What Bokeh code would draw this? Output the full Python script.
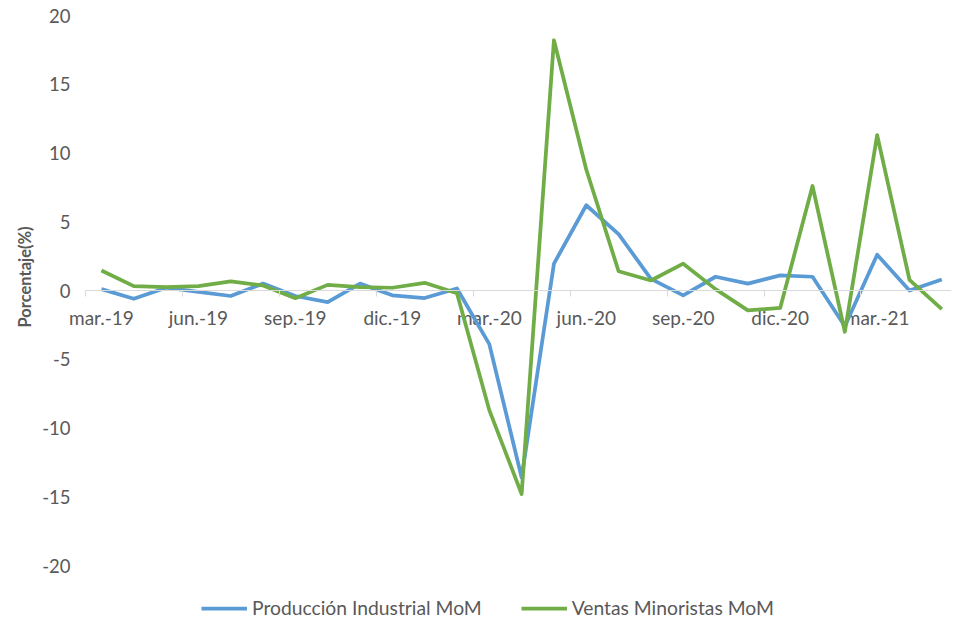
from bokeh.plotting import figure
from bokeh.models import Range1d, FixedTicker, LinearAxis, Legend, LegendItem, Title
from bokeh.core.properties import value
from bokeh.embed import file_html
from bokeh.resources import INLINE

months = ["mar.-19", "abr.-19", "may.-19", "jun.-19", "jul.-19", "ago.-19", "sep.-19",
          "oct.-19", "nov.-19", "dic.-19", "ene.-20", "feb.-20", "mar.-20", "abr.-20",
          "may.-20", "jun.-20", "jul.-20", "ago.-20", "sep.-20", "oct.-20", "nov.-20",
          "dic.-20", "ene.-21", "feb.-21", "mar.-21", "abr.-21", "may.-21"]

produccion = [0.1, -0.6, 0.2, -0.1, -0.4, 0.5, -0.4, -0.85, 0.5, -0.35, -0.55, 0.15,
              -3.9, -13.6, 1.95, 6.2, 4.1, 0.85, -0.35, 1.0, 0.5, 1.1, 1.0, -2.6,
              2.6, 0.0, 0.8]

ventas = [1.45, 0.32, 0.25, 0.32, 0.66, 0.37, -0.56, 0.41, 0.25, 0.2, 0.56, -0.2,
          -8.7, -14.8, 18.2, 8.8, 1.4, 0.73, 1.95, 0.1, -1.45, -1.27, 7.6, -3.0,
          11.3, 0.78, -1.35]

y_ticks = [-20, -15, -10, -5, 0, 5, 10, 15, 20]
y_tick_labels = ["-20", "-15", "-10", "-5", "0", "5", "10", "15", "20"]
label_step = 3

x = list(range(len(months)))
label_pos = list(range(0, len(months), label_step))
label_text = [months[i] for i in label_pos]
boundary_pos = [i - 0.5 for i in label_pos]

FONT = "Lato"
GREY = "#595959"
AXIS_GREY = "#d9d9d9"

# the frame reaches below -20 to leave room for the legend under the plot
p = figure(frame_width=884, frame_height=605, output_backend="svg", toolbar_location=None,
           x_range=Range1d(-1.05, 26.3), y_range=Range1d(-24, 20),
           min_border_left=67, min_border_top=15, min_border_right=1, min_border_bottom=0,
           x_axis_type=None, y_axis_type=None)
p.outline_line_color = None
p.xgrid.visible = False
p.ygrid.visible = False

yaxis = LinearAxis(ticker=FixedTicker(ticks=y_ticks))
yaxis.axis_line_color = None
yaxis.major_tick_line_color = None
yaxis.minor_tick_line_color = None
yaxis.major_tick_out = 0
yaxis.major_label_overrides = dict(zip(y_ticks, y_tick_labels))
yaxis.major_label_text_color = GREY
yaxis.major_label_text_font = FONT
yaxis.major_label_text_font_size = "18.5px"
yaxis.major_label_standoff = -3
p.add_layout(yaxis, "left")

p.add_layout(Title(text="Porcentaje(%)", align="left", offset=293, standoff=9,
                   text_font=FONT, text_font_style="bold", text_font_size="16.5px",
                   text_color=GREY), "left")

# zero axis line with tick marks at category boundaries
xline = LinearAxis(ticker=FixedTicker(ticks=[], minor_ticks=boundary_pos), fixed_location=0,
                   bounds=(-0.5, 26.3))
xline.axis_line_color = AXIS_GREY
xline.major_tick_line_color = None
xline.minor_tick_line_color = AXIS_GREY
xline.minor_tick_out = 6
xline.minor_tick_in = 0
xline.major_label_text_font_size = "0px"
xline.major_label_standoff = 0
p.add_layout(xline, "below")

# month labels centred on their months
lbl = p.text(x=label_pos, y=[0] * len(label_pos), text=label_text, text_align="center",
             text_baseline="top", y_offset=15, text_color=GREY, text_font_size="19px",
             text_font=value(FONT))

r1 = p.line(x, produccion, line_color="#5B9BD5", line_width=3.75, line_join="round")
r2 = p.line(x, ventas, line_color="#70AD47", line_width=3.75, line_join="round")

legend = Legend(items=[LegendItem(label="Producción Industrial MoM", renderers=[r1]),
                       LegendItem(label="Ventas Minoristas MoM", renderers=[r2])],
                orientation="horizontal", location=(134, 1),
                glyph_width=46, glyph_height=10, label_standoff=5, spacing=39,
                padding=0, margin=0, border_line_color=None, background_fill_alpha=0,
                label_text_font=FONT, label_text_font_size="19.3px", label_text_color=GREY)
p.add_layout(legend, "center")

open("out.html", "w").write(file_html(p, INLINE))
